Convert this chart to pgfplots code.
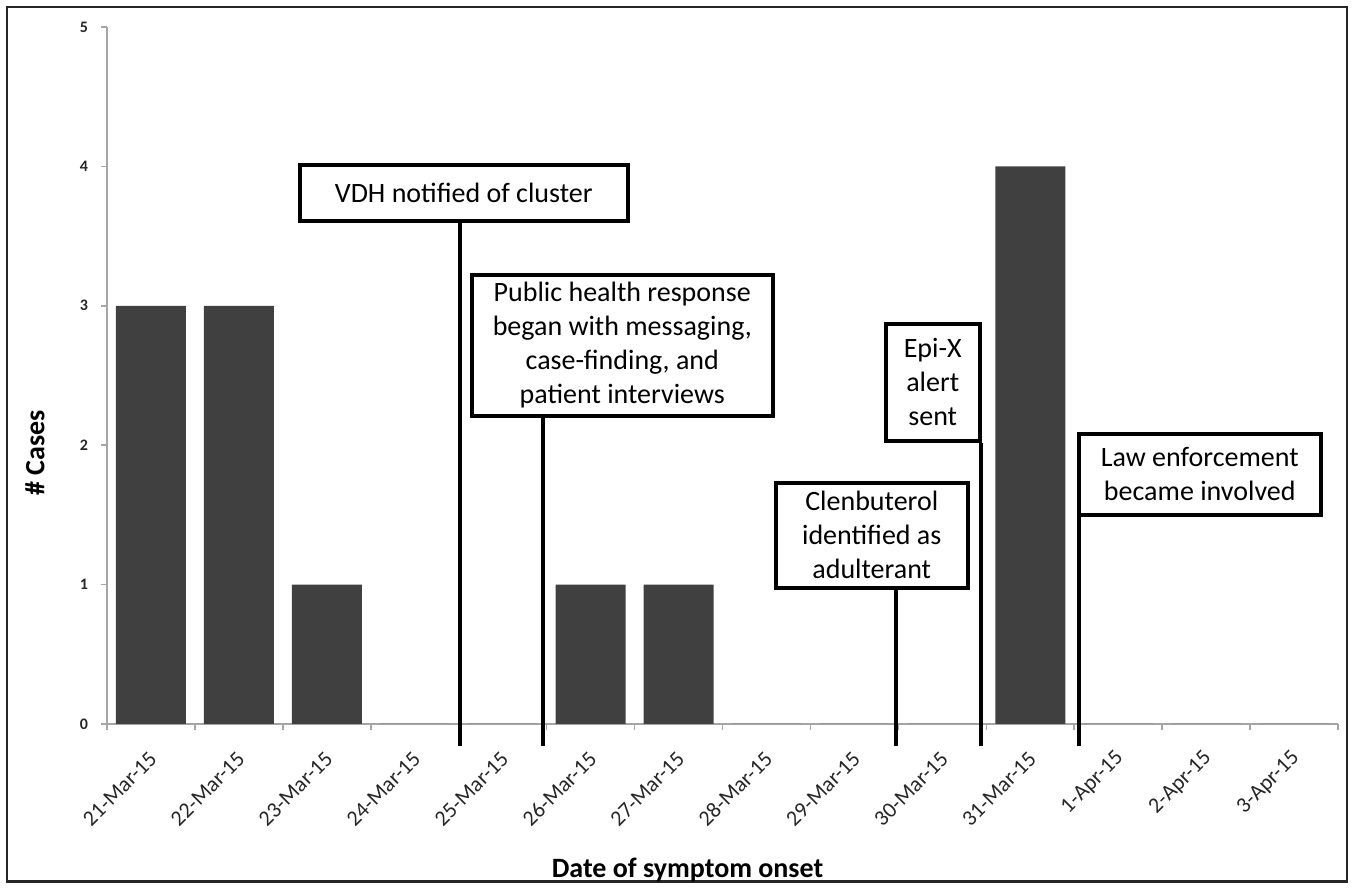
\documentclass[border=0pt]{standalone}
\usepackage{pgfplots}
\pgfplotsset{compat=1.18}
\usepackage{fontspec}
\setmainfont{Carlito}
\definecolor{barcol}{RGB}{64,64,64}
\definecolor{axcol}{RGB}{165,165,165}
\begin{document}
\begin{tikzpicture}
\path (0,0) rectangle (676.5pt,444pt);
\draw[line width=1.2pt, black!85] (3.5pt,3.25pt) rectangle (673.5pt,440.5pt);
\begin{axis}[
  at={(53.5pt,82pt)}, anchor=south west,
  scale only axis, width=615.5pt, height=348.5pt,
  xmin=-0.5, xmax=13.5, ymin=0, ymax=5,
  axis x line=bottom, axis y line=left,
  axis line style={-, axcol, line width=0.8pt},
  xtick={-0.5,0.5,...,13.5},
  x tick label as interval,
  xticklabels={21-Mar-15,22-Mar-15,23-Mar-15,24-Mar-15,25-Mar-15,26-Mar-15,27-Mar-15,28-Mar-15,29-Mar-15,30-Mar-15,31-Mar-15,1-Apr-15,2-Apr-15,3-Apr-15},
  ytick={0,1,2,3,4,5},
  tick align=outside,
  major tick length=3pt,
  tick style={axcol, line width=0.8pt},
  xticklabel style={rotate=45, anchor=east, inner sep=0pt, font=\fontsize{11}{13}\selectfont, text=black!85, xshift=-8pt, yshift=-9.7pt},
  yticklabel style={font=\bfseries\fontsize{8}{10}\selectfont, text=black!85, xshift=-3pt},
  /pgf/number format/assume math mode=true,
  xlabel={Date of symptom onset},
  xlabel style={at={(rel axis cs:0.4716,0)}, anchor=base, yshift=-77pt, font=\bfseries\fontsize{14}{17}\selectfont},
  ylabel={\# Cases},
  ylabel style={at={(rel axis cs:0,0.389)}, anchor=center, yshift=36pt, font=\bfseries\fontsize{14}{17}\selectfont},
  clip=false,
]
% cases by date of symptom onset
\addplot[ybar, bar width=35pt, fill=barcol, draw=none] coordinates {
  (0,3) (1,3) (2,1) (3,0) (4,0) (5,1) (6,1) (7,0) (8,0) (9,0) (10,4) (11,0) (12,0) (13,0)};
% event lines
\addplot[black, line width=1.8pt] coordinates {(3.514,-0.155) (3.514,3.594)};
\addplot[black, line width=1.8pt] coordinates {(4.458,-0.155) (4.458,2.195)};
\addplot[black, line width=1.8pt] coordinates {(8.473,-0.16) (8.473,0.961)};
\addplot[black, line width=1.8pt] coordinates {(9.439,-0.16) (9.439,2.016)};
\addplot[black, line width=1.8pt] coordinates {(10.554,-0.16) (10.554,1.485)};
% annotation boxes
\tikzset{evbox/.style={draw=black, line width=1.8pt, fill=white, anchor=north west, inner sep=0pt, align=center, font=\fontsize{14}{17}\selectfont}}
\node[evbox, minimum width=164pt, minimum height=28pt] at (axis cs:1.672,4.024) {VDH notified of cluster};
\node[evbox, minimum width=150.5pt, minimum height=70.5pt] at (axis cs:3.628,3.235) {Public health response\\began with messaging,\\case-finding, and\\patient interviews};
\node[evbox, minimum width=47pt, minimum height=58.5pt] at (axis cs:8.336,2.884) {Epi-X\\alert\\sent};
\node[evbox, minimum width=96pt, minimum height=52.5pt] at (axis cs:7.085,1.743) {Clenbuterol\\identified as\\adulterant};
\node[evbox, minimum width=121pt, minimum height=40.5pt] at (axis cs:10.531,2.095) {Law enforcement\\became involved};
\end{axis}
\end{tikzpicture}
\end{document}
